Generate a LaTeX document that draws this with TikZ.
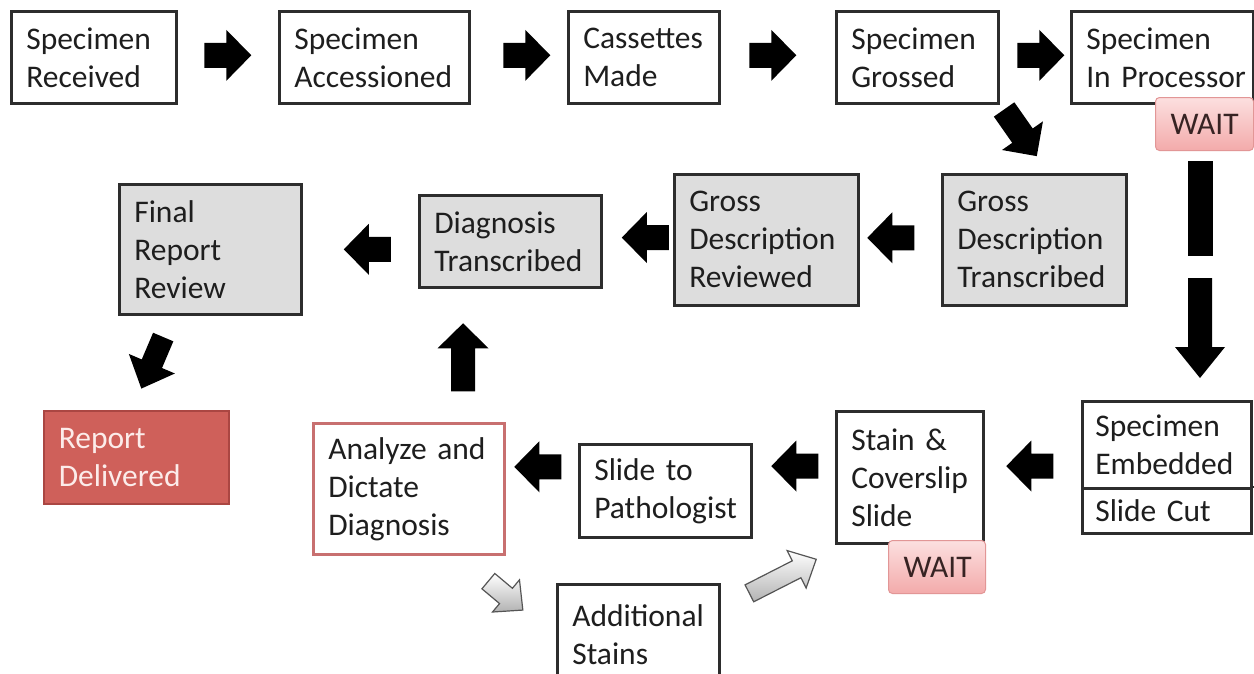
\documentclass[tikz,border=0pt]{standalone}
\usepackage{fontspec}
\setmainfont{Carlito}
\usetikzlibrary{calc}
\definecolor{boxc}{RGB}{45,45,45}
\definecolor{txtc}{RGB}{30,30,30}
\definecolor{grayc}{RGB}{221,221,221}
\definecolor{repf}{RGB}{207,96,90}
\definecolor{repb}{RGB}{170,70,66}
\definecolor{rept}{RGB}{252,236,234}
\definecolor{anab}{RGB}{200,112,112}
\definecolor{waitt}{RGB}{252,224,224}
\definecolor{waitbm}{RGB}{243,170,170}
\definecolor{waitd}{RGB}{226,150,150}
\definecolor{waittx}{RGB}{55,35,35}
\definecolor{garrow}{RGB}{85,85,85}
\newcommand\mainfs{\fontsize{31.5}{38}\selectfont}
\newcommand\blockarrow[7][fill=black]{%
  \path[#1, shift={(#2)}, rotate=#3]
    (-#4/2,-#5/2) -- ({#4/2-#7},-#5/2) -- ({#4/2-#7},-#6/2) -- (#4/2,0)
    -- ({#4/2-#7},#6/2) -- ({#4/2-#7},#5/2) -- (-#4/2,#5/2) -- cycle;}
\begin{document}
\begin{tikzpicture}[x=1pt,y=-1pt,
  box/.style={draw=boxc, line width=2.6pt, fill=white, anchor=north west,
    align=left, inner xsep=15pt, inner ysep=0pt, font=\mainfs, text=txtc},
  sz/.code 2 args={\pgfmathsetmacro\boxtw{#1-30}%
    \edef\boxtmp{\noexpand\tikzset{minimum width=#1pt, minimum height=#2pt, text width=\boxtw pt}}\boxtmp},
  graybox/.style={box, fill=grayc},
  waitbox/.style={draw=waitd, line width=1pt, rounded corners=4pt,
    top color=waitt, bottom color=waitbm, anchor=north west, align=center,
    inner sep=0pt, font=\mainfs, text=waittx},
  garr/.style={draw=garrow, line width=1.2pt, top color=white, bottom color=gray!60}]
\path[use as bounding box, clip] (0,0) rectangle (1254,673);
\fill[white] (0,0) rectangle (1254,673);

% row 1
\node[box, sz={165}{92}] (rec) at (10,10) {Specimen\\Received};
\node[box, sz={190}{92}] (acc) at (278,10) {Specimen\\Accessioned};
\node[box, sz={151}{92}] (cas) at (567,10) {Cassettes\\Made};
\node[box, sz={162}{92}] (gro) at (835,10) {Specimen\\Grossed};
\node[box, sz={182}{92}] (pro) at (1070,10) {Specimen\\\mbox{In Processor}};
\node[waitbox, sz={98}{53}] (wait1) at (1155,97) {WAIT};

% row 2
\node[graybox, sz={184}{131}] (gdt) at (941,173) {Gross\\Description\\Transcribed};
\node[graybox, sz={184}{131}] (gdr) at (673,173) {Gross\\Description\\Reviewed};
\node[graybox, sz={182}{92}] (dtr) at (418,194) {Diagnosis\\Transcribed};
\node[graybox, sz={182}{130}] (frr) at (118,183) {Final\\Report\\Review};

% row 3
\node[box, draw=repb, line width=1.5pt, fill=repf, text=rept, sz={185}{93}] (rep) at (43,410) {Report\\Delivered};
\node[box, draw=anab, sz={191}{131}] (ana) at (312,422) {Analyze and\\Dictate\\Diagnosis};
\node[box, sz={172}{93}] (stp) at (578,443) {Slide to\\Pathologist};
\node[box, sz={147}{132}] (stn) at (835,410) {Stain \&\\Coverslip\\Slide};
\node[waitbox, sz={97}{53}] (wait2) at (888,540) {WAIT};
\node[box, inner xsep=13pt, minimum width=169pt, minimum height=87pt, text width=143pt] (emb) at (1081,400) {Specimen\\Embedded};
\node[box, inner xsep=13pt, minimum width=169pt, minimum height=45pt, text width=143pt] (cut) at (1081,487) {Slide Cut};
\draw[boxc, line width=2.6pt] (cut.north east) -- ++(4,0);
\node[box, sz={162}{100}] (add) at (556,583) {Additional\\Stains};

% row 1 arrows
\blockarrow{$(rec.east)!0.5!(acc.west)+(0,-2)$}{0}{47}{25}{51}{25}
\blockarrow{$(acc.east)!0.5!(cas.west)+(8,-2)$}{0}{47}{25}{51}{25}
\blockarrow{$(cas.east)!0.5!(gro.west)+(-5,-2)$}{0}{47}{25}{51}{25}
\blockarrow{$(gro.east)!0.5!(pro.west)+(6,-2)$}{0}{47}{25}{51}{25}
% diagonal to gross description transcribed
\blockarrow{$(gro.south east)!0.5!(gdt.north)+(3.5,-6)$}{-55}{57}{25}{50}{25}
% vertical on the right
\coordinate (vx) at ($(wait1.south)+(-4.5,0)$);
\fill ($(vx)+(-12.5,10)$) rectangle ($(vx)+(12.5,105)$);
\blockarrow{$(vx |- emb.north)+(0,-72)$}{-90}{100}{24}{50}{31}
% row 2 arrows
\blockarrow{$(gdt.west)!0.5!(gdr.east)+(-9.5,-2)$}{180}{47}{25}{51}{25}
\blockarrow{$(gdr.west)!0.5!(dtr.east)+(7.5,-3)$}{180}{47}{25}{51}{25}
\blockarrow{$(dtr.west)!0.5!(frr.east)+(7,4)$}{180}{47}{25}{51}{25}
% to report delivered
\blockarrow{$(frr.south)!0.5!(rep.north)+(-21,0)$}{-113}{56}{22}{50}{27}
% up to diagnosis transcribed
\blockarrow{$(ana.north)!0.5!(dtr.south)+(3.5,2)$}{90}{68}{24}{51}{25}
% row 3 arrows
\blockarrow{$(emb.west)!0.5!(stn.east)+(-3,5)$}{180}{47}{25}{51}{25}
\blockarrow{$(stn.west)!0.5!(stp.east)+(1,-18)$}{180}{47}{25}{51}{25}
\blockarrow{$(stp.west)!0.5!(ana.east)+(-4,-23)$}{180}{47}{25}{51}{25}
% gray arrows
\blockarrow[garr]{$(ana.south east)+(0,40)$}{-40}{45}{20}{42}{22}
\blockarrow[garr]{$(add.north east)!0.5!(stn.south west)+(5,12.5)$}{27}{75}{19}{42}{22}
\end{tikzpicture}
\end{document}
